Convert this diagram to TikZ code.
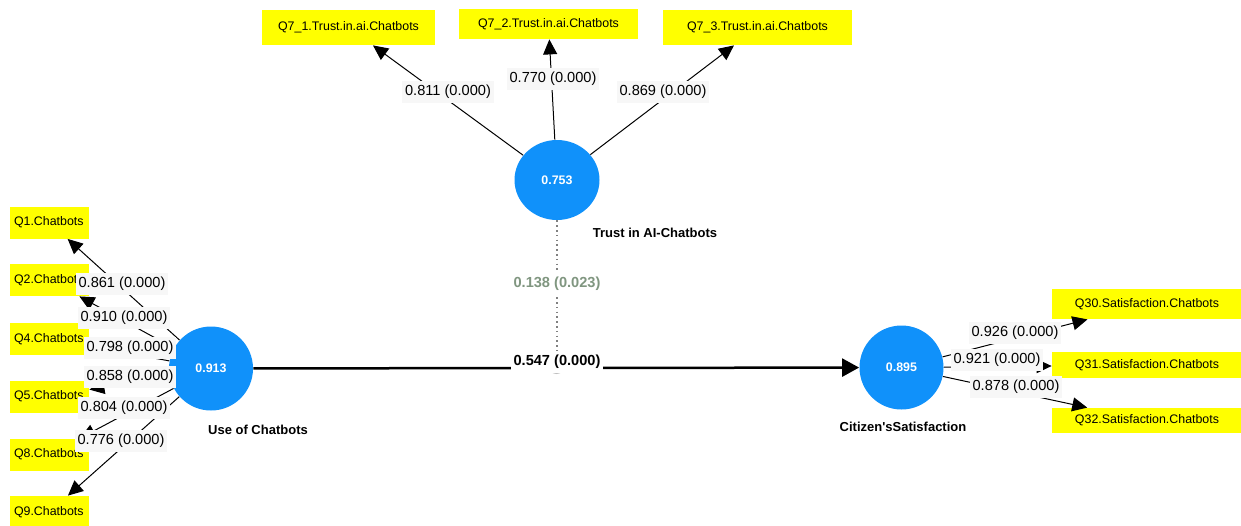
\documentclass[tikz,border=0pt]{standalone}
\usepackage{fontspec}
\setmainfont{Liberation Sans}[Ligatures=TeXOff]
\usetikzlibrary{arrows.meta,shapes.geometric}
\definecolor{lvblue}{RGB}{16,145,250}
\definecolor{boxyellow}{RGB}{255,255,0}
\definecolor{modgray}{RGB}{128,150,128}
\begin{document}
\begin{tikzpicture}[x=0.5pt,y=-0.5pt,
  lv/.style={circle, fill=lvblue, minimum size=42pt, inner sep=0pt, text=white, font=\fontsize{6.2}{7}\selectfont\bfseries},
  ind/.style={fill=boxyellow, inner sep=0pt, font=\fontsize{6.2}{7}\selectfont},
  leftind/.style={ind, minimum height=16pt, text width=35.5pt, align=left, inner xsep=2pt},
  rightind/.style={ind, minimum width=95pt},
  lbl/.style={fill=black!3, inner xsep=1.5pt, inner ysep=2pt, font=\fontsize{7.3}{8}\selectfont},
  lvname/.style={font=\fontsize{6.5}{7.5}\selectfont\bfseries},
  ldg/.style={-{Triangle[length=7.5pt,width=7pt]}, line width=0.5pt},
  ]
\useasboundingbox (0,0) rectangle (1241,525);
\fill[white] (0,0) rectangle (1241,525);

% indicator boxes
\node[ind, minimum width=86.5pt, minimum height=17.5pt] (q71) at (348.5,27.5) {Q7\_1.Trust.in.ai.Chatbots};
\node[ind, minimum width=89.5pt, minimum height=15pt] (q72) at (548.5,24) {Q7\_2.Trust.in.ai.Chatbots};
\node[ind, minimum width=94.5pt, minimum height=17.5pt] (q73) at (757.5,27.5) {Q7\_3.Trust.in.ai.Chatbots};

\node[leftind] (q1) at (49.5,222.5) {Q1.Chatbots};
\node[leftind] (q2) at (49.5,280) {Q2.Chatbots};
\node[leftind] (q4) at (49.5,339) {Q4.Chatbots};
\node[leftind] (q5) at (49.5,396.5) {Q5.Chatbots};
\node[leftind] (q8) at (49.5,454.5) {Q8.Chatbots};
\node[leftind] (q9) at (49.5,512) {Q9.Chatbots};

\node[rightind, minimum height=15pt] (q30) at (1147,304) {Q30.Satisfaction.Chatbots};
\node[rightind, minimum height=13pt] (q31) at (1147,365) {Q31.Satisfaction.Chatbots};
\node[rightind, minimum height=12.5pt] (q32) at (1147,420.5) {Q32.Satisfaction.Chatbots};

% latent variables
\node[lv, ellipse, minimum width=42.5pt, minimum height=40pt] (trust) at (557,180) {0.753};
\node[lv] (use) at (211,368.5) {0.913};
\node[lv] (cit) at (901.5,367.5) {0.895};

\node[lvname] (trustname) at (655,233) {Trust in AI-Chatbots};
\node[lvname] (usename) at (258,430) {Use of Chatbots};
\node[lvname] (citname) at (903,427) {Citizen's{}Satisfaction};

% moderating (dotted) path
\coordinate (modend) at (557,368);
\draw[gray, line width=0.8pt, dash pattern=on 0.8pt off 1.6pt] (trust) -- (modend);
\draw[gray!50, line width=1pt] (551,370) .. controls (553,374) and (560,374) .. (562,370);

% structural path
\draw[line width=1.25pt, -{Triangle[length=8.5pt,width=9pt]}] (use) -- (cit);

% loadings
\draw[ldg] (trust) -- (q71);
\draw[ldg] (trust) -- (q72);
\draw[ldg] (trust) -- (q73);
\draw[ldg] (use) -- (q1);
\draw[ldg] (use) -- (q2);
\draw[ldg] (use) -- (q4);
\draw[ldg] (use) -- (q5);
\draw[ldg] (use) -- (q8);
\draw[ldg] (use) -- (q9);
\draw[ldg] (cit) -- (q30);
\draw[ldg] (cit) -- (q31);
\draw[ldg] (cit) -- (q32);

% labels
\node[lbl] (l71) at (448,92) {0.811 (0.000)};
\node[lbl] (l72) at (553,79) {0.770 (0.000)};
\node[lbl] (l73) at (663,92) {0.869 (0.000)};
\node[lbl] (l1) at (122,284) {0.861 (0.000)};
\node[lbl] (l2) at (124,318) {0.910 (0.000)};
\node[lbl] (l4) at (130,348) {0.798 (0.000)};
\node[lbl] (l5) at (130,377) {0.858 (0.000)};
\node[lbl] (l8) at (124,408) {0.804 (0.000)};
\node[lbl] (l9) at (121,441) {0.776 (0.000)};
\node[lbl] (l30) at (1015,333) {0.926 (0.000)};
\node[lbl] (l31) at (997,360) {0.921 (0.000)};
\node[lbl] (l32) at (1016,387) {0.878 (0.000)};
\node[lbl, fill=white, font=\fontsize{7.3}{8}\selectfont\bfseries] (lmain) at (557,362) {0.547 (0.000)};
\node[lbl, fill=white, text=modgray, font=\fontsize{7.3}{8}\selectfont\bfseries] (lmod) at (557,284) {0.138 (0.023)};
\end{tikzpicture}
\end{document}
